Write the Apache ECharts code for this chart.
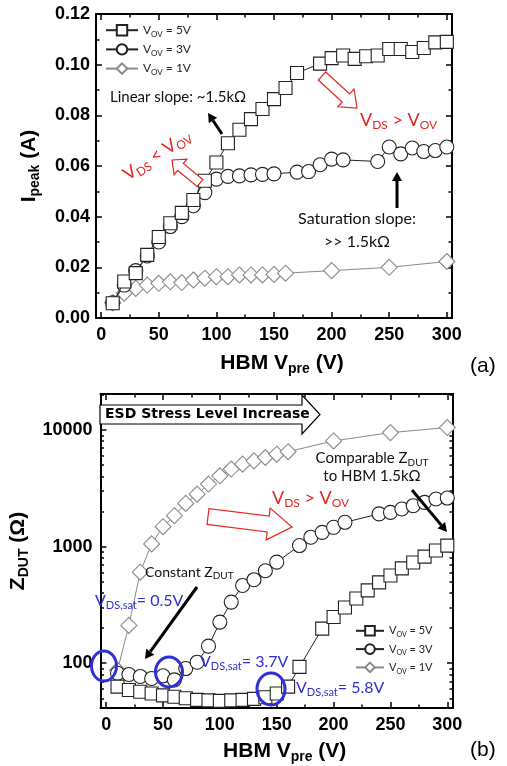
<!DOCTYPE html>
<html>
<head>
<meta charset="utf-8">
<script src="https://cdn.jsdelivr.net/npm/echarts@6/dist/echarts.min.js"></script>
<style>
html, body { margin: 0; padding: 0; background: #fff; }
#main { width: 507px; height: 766px; }
</style>
</head>
<body>
<div id="main"></div>
<script>
// (a) I_peak vs HBM V_pre
var voltsA5 = [10,20,30,40,50,60,70,80,90,100,110,120,130,140,150,160,170,190,200,210,220,230,240,250,260,270,280,290,300];
var ipeak5 = [0.0058,0.0144,0.0177,0.0249,0.032,0.0374,0.0415,0.0466,0.0542,0.0614,0.069,0.0743,0.0785,0.0825,0.0864,0.0908,0.0967,0.1004,0.1026,0.1036,0.1023,0.1033,0.1036,0.1062,0.1062,0.105,0.1066,0.1088,0.109];
var voltsA3 = [10,20,30,40,50,60,70,80,90,100,110,120,130,140,150,170,180,190,200,210,240,250,260,270,280,290,300];
var ipeak3 = [0.006,0.013,0.0187,0.0245,0.030,0.0361,0.040,0.0443,0.0495,0.0548,0.0559,0.0561,0.0565,0.0567,0.0569,0.0576,0.0578,0.0605,0.0627,0.0624,0.0618,0.0675,0.0648,0.0671,0.0657,0.0661,0.0675];
var voltsA1 = [10,20,30,40,50,60,70,80,90,100,110,120,130,140,150,160,200,250,300];
var ipeak1 = [0.006,0.0098,0.0117,0.013,0.0137,0.0143,0.014,0.015,0.0157,0.0163,0.0163,0.017,0.017,0.017,0.0172,0.0177,0.0187,0.020,0.0223];

// (b) Z_DUT vs HBM V_pre
var voltsB5 = [10,20,30,40,50,60,70,80,90,100,110,120,130,140,150,160,170,190,200,210,220,230,240,250,260,270,280,290,300];
var zdut5 = [63,59,57,55,53,51.5,50,48.5,48,47.5,48,48.5,49.5,51,55,63,93,198,249,300,359,421,493,565,650,730,820,925,1019];
var voltsB3 = [10,20,30,40,50,60,70,80,90,100,110,120,130,140,150,170,180,190,200,210,240,250,260,270,280,290,300];
var zdut3 = [82,80,77,74,78,72,90,102,140,225,334,464,520,620,735,1020,1203,1324,1462,1614,1906,1964,2099,2240,2391,2558,2606];
var voltsB1 = [10,20,30,40,50,60,70,80,90,100,110,120,130,140,150,160,200,250,300];
var zdut1 = [87,211,603,1054,1480,1840,2345,2815,3435,4045,4615,5090,5430,5800,6190,6510,8050,9480,10480];

// ticks
var xMajor = [0,50,100,150,200,250,300];
var xMinor = [25,75,125,175,225,275];
var yMajorA = [0,0.02,0.04,0.06,0.08,0.10,0.12];
var yMinorA = [0.01,0.03,0.05,0.07,0.09,0.11];
var yMajorB = [100,1000,10000];
var yMinorB = [50,60,70,80,90,200,300,400,500,600,700,800,900,2000,3000,4000,5000,6000,7000,8000,9000,20000];

var seriesNames = ['VOV = 5V', 'VOV = 3V', 'VOV = 1V'];

var RED = '#e4261f', BLUE = '#2f2fd6';
var LAB = 'Liberation Sans';
var ANN = 'Lato';

function pairs(xs, ys) {
    return xs.map(function (x, i) { return [x, ys[i]]; });
}

var looks = [
    { symbol: 'rect', size: 13, color: '#222' },
    { symbol: 'circle', size: 14, color: '#222' },
    { symbol: 'diamond', size: 16, color: '#8a8a8a' }
];

function mkLine(k, data, g) {
    var s = looks[k];
    return {
        type: 'line', name: seriesNames[k], data: data,
        xAxisIndex: g * 4, yAxisIndex: g * 4,
        symbol: s.symbol, symbolSize: s.size, showSymbol: true,
        lineStyle: { color: s.color, width: 1 },
        itemStyle: { color: '#fff', borderColor: s.color, borderWidth: 1.1 },
        emphasis: { disabled: true },
        z: 3 - k
    };
}

function mkAxes(g, o) {
    function base(pos, ticks, len, showLine) {
        var a = {
            gridIndex: g, type: o.type, min: o.min, max: o.max, position: pos,
            axisLine: { show: showLine, onZero: false, lineStyle: { color: '#000', width: 2 } },
            axisTick: { show: true, inside: true, length: len, customValues: ticks, lineStyle: { color: '#000', width: 1.5 } },
            axisLabel: { show: false },
            splitLine: { show: false },
            silent: true
        };
        if (o.type === 'log') a.logBase = 10;
        return a;
    }
    var main = base(o.mainPos, o.major, 6, true);
    main.axisLabel = {
        show: true, customValues: o.major, formatter: o.fmt, margin: o.margin,
        color: '#000', fontFamily: LAB, fontWeight: 'bold', fontSize: 18
    };
    main.name = o.name;
    main.nameLocation = 'middle';
    main.nameGap = o.nameGap;
    main.nameRotate = o.nameRotate || 0;
    main.nameTextStyle = {
        color: '#000', fontFamily: LAB, fontWeight: 'bold', padding: o.namePad || 0,
        rich: {
            b: { fontFamily: LAB, fontWeight: 'bold', fontSize: 21, lineHeight: 26 },
            s: { fontFamily: LAB, fontWeight: 'bold', fontSize: 14, lineHeight: 13, verticalAlign: 'bottom' }
        }
    };
    return [main, base(o.mainPos, o.minor, 3.5, false), base(o.mirrorPos, o.major, 6, true), base(o.mirrorPos, o.minor, 3.5, false)];
}

var xAxes = [].concat(
    mkAxes(0, { type: 'value', min: -4.5, max: 304.5, major: xMajor, minor: xMinor, mainPos: 'bottom', mirrorPos: 'top',
        margin: 8, name: '{b|HBM V}{s|pre}{b| (V)}', nameGap: 32, namePad: [0, 0, 0, 16] }),
    mkAxes(1, { type: 'value', min: -5, max: 305, major: xMajor, minor: xMinor, mainPos: 'bottom', mirrorPos: 'top',
        margin: 8, name: '{b|HBM V}{s|pre}{b| (V)}', nameGap: 30, namePad: [0, 0, 0, 16] })
);
var yAxes = [].concat(
    mkAxes(0, { type: 'value', min: 0, max: 0.12, major: yMajorA, minor: yMinorA, mainPos: 'left', mirrorPos: 'right',
        margin: 6, fmt: function (v) { return v.toFixed(2); },
        name: '{b|I}{s|peak}{b| (A)}', nameGap: 54, nameRotate: 90 }),
    mkAxes(1, { type: 'log', min: 41.3, max: 20320, major: yMajorB, minor: yMinorB, mainPos: 'left', mirrorPos: 'right',
        margin: 8, fmt: function (v) { return String(Math.round(v)); },
        name: '{b|Z}{s|DUT}{b| (\u03a9)}', nameGap: 52, nameRotate: 90 })
);

// annotation helpers
function blockArrow(tail, tip, w, hw, hl, color) {
    var dx = tip[0] - tail[0], dy = tip[1] - tail[1];
    var L = Math.sqrt(dx * dx + dy * dy), ux = dx / L, uy = dy / L, nx = -uy, ny = ux;
    var bx = tip[0] - ux * hl, by = tip[1] - uy * hl;
    return {
        type: 'polygon', z: 100,
        shape: { points: [
            [tail[0] + nx * w, tail[1] + ny * w], [bx + nx * w, by + ny * w], [bx + nx * hw, by + ny * hw],
            tip, [bx - nx * hw, by - ny * hw], [bx - nx * w, by - ny * w], [tail[0] - nx * w, tail[1] - ny * w]
        ] },
        style: { fill: '#fff', stroke: color, lineWidth: 1.2 }
    };
}

function blackArrow(from, to) {
    var dx = to[0] - from[0], dy = to[1] - from[1];
    var L = Math.sqrt(dx * dx + dy * dy), ux = dx / L, uy = dy / L, nx = -uy, ny = ux;
    var hl = 9, hw = 5;
    var bx = to[0] - ux * hl, by = to[1] - uy * hl;
    return [
        { type: 'line', z: 100, shape: { x1: from[0], y1: from[1], x2: bx, y2: by }, style: { stroke: '#000', lineWidth: 3 } },
        { type: 'polygon', z: 100, shape: { points: [to, [bx + nx * hw, by + ny * hw], [bx - nx * hw, by - ny * hw]] }, style: { fill: '#000' } }
    ];
}

function subRich(size, color) {
    return {
        m: { fontFamily: ANN, fontSize: size, lineHeight: size + 4, color: color },
        s: { fontFamily: ANN, fontSize: Math.round(size * 0.68), lineHeight: Math.round(size * 0.68), verticalAlign: 'bottom', color: color }
    };
}

function txt(x, y, text, size, color, align, rot) {
    return {
        type: 'text', x: x, y: y, z: 101, rotation: rot || 0,
        style: {
            text: text, rich: subRich(size, color), fill: color,
            fontFamily: ANN, fontSize: size,
            align: align || 'left', verticalAlign: 'middle'
        }
    };
}

var graphics = [].concat(
    // panel (a)
    txt(110, 97, '{m|Linear slope: ~1.5k\u03a9}', 15, '#111'),
    blackArrow([222, 134], [208, 113]),
    txt(157, 155, '{m|V}{s|DS}{m| < V}{s|OV}', 18, RED, 'center', 0.58),
    blockArrow([200, 183], [172, 160], 4.5, 10, 11, RED),
    blockArrow([322, 76], [357, 108], 5.5, 12, 15, RED),
    txt(360, 120, '{m|V}{s|DS}{m| > V}{s|OV}', 18, RED),
    blackArrow([397, 208], [397, 172]),
    txt(357, 219, '{m|Saturation slope:}', 16, '#111', 'center'),
    txt(357, 242, '{m|>> 1.5k\u03a9}', 16, '#111', 'center'),
    [{ type: 'text', x: 470, y: 366, z: 101, style: { text: '(a)', fill: '#000', fontFamily: LAB, fontSize: 21, verticalAlign: 'middle' } }],
    // panel (b)
    [{ type: 'polygon', z: 100,
       shape: { points: [[100, 405], [302, 405], [302, 395], [320, 414.5], [302, 434], [302, 424], [100, 424]] },
       style: { fill: '#fff', stroke: '#000', lineWidth: 1.2 } },
     { type: 'text', x: 105, y: 414.5, z: 101,
       style: { text: 'ESD Stress Level Increase', fill: '#000', fontFamily: 'DejaVu Sans', fontWeight: 'bold', fontSize: 14, verticalAlign: 'middle' } }],
    blockArrow([208, 516.5], [292, 527], 8, 16, 24, RED),
    txt(272, 498, '{m|V}{s|DS}{m| > V}{s|OV}', 18, RED),
    txt(372, 458, '{m|Comparable Z}{s|DUT}', 15, '#111', 'center'),
    txt(372, 476, '{m|to HBM 1.5k\u03a9}', 15, '#111', 'center'),
    blackArrow([412, 490], [447, 532]),
    txt(145, 572, '{m|Constant Z}{s|DUT}', 14, '#111'),
    blackArrow([197, 587], [145, 659]),
    txt(95, 601, '{m|V}{s|DS,sat}{m|= 0.5V}', 16, BLUE),
    txt(200, 662, '{m|V}{s|DS,sat}{m|= 3.7V}', 16, BLUE),
    txt(296, 688, '{m|V}{s|DS,sat}{m|= 5.8V}', 16, BLUE),
    [{ type: 'ellipse', z: 102, shape: { cx: 104, cy: 666, rx: 12.5, ry: 15 }, style: { fill: 'none', stroke: BLUE, lineWidth: 3 } },
     { type: 'ellipse', z: 102, shape: { cx: 169, cy: 672, rx: 13.5, ry: 15 }, style: { fill: 'none', stroke: BLUE, lineWidth: 3 } },
     { type: 'ellipse', z: 102, shape: { cx: 271, cy: 689, rx: 14, ry: 16 }, style: { fill: 'none', stroke: BLUE, lineWidth: 3 } },
     { type: 'text', x: 470, y: 750, z: 101, style: { text: '(b)', fill: '#000', fontFamily: LAB, fontSize: 21, verticalAlign: 'middle' } }]
);

function legendFor(left, top, w, h, gap, fs) {
    return {
        show: true, orient: 'vertical', left: left, top: top,
        itemWidth: w, itemHeight: h, itemGap: gap, padding: 0,
        selectedMode: false, data: seriesNames,
        formatter: function (n) { return '{m|V}{s|OV}{m|' + n.slice(3) + '}'; },
        textStyle: { color: '#222', fontFamily: ANN, fontSize: fs, rich: subRich(fs, '#222') }
    };
}

var option = {
    animation: false,
    backgroundColor: '#fff',
    grid: [
        { left: 96, top: 14, width: 356, height: 304 },
        { left: 90, top: 394, width: 363, height: 314 }
    ],
    xAxis: xAxes,
    yAxis: yAxes,
    legend: [legendFor(105, 24, 32, 13, 5, 12), legendFor(355, 625, 28, 12, 5, 11)],
    series: [
        mkLine(0, pairs(voltsA5, ipeak5), 0),
        mkLine(1, pairs(voltsA3, ipeak3), 0),
        mkLine(2, pairs(voltsA1, ipeak1), 0),
        mkLine(0, pairs(voltsB5, zdut5), 1),
        mkLine(1, pairs(voltsB3, zdut3), 1),
        mkLine(2, pairs(voltsB1, zdut1), 1)
    ],
    graphic: graphics
};

var chart = echarts.init(document.getElementById('main'));
chart.setOption(option);
</script>
</body>
</html>
